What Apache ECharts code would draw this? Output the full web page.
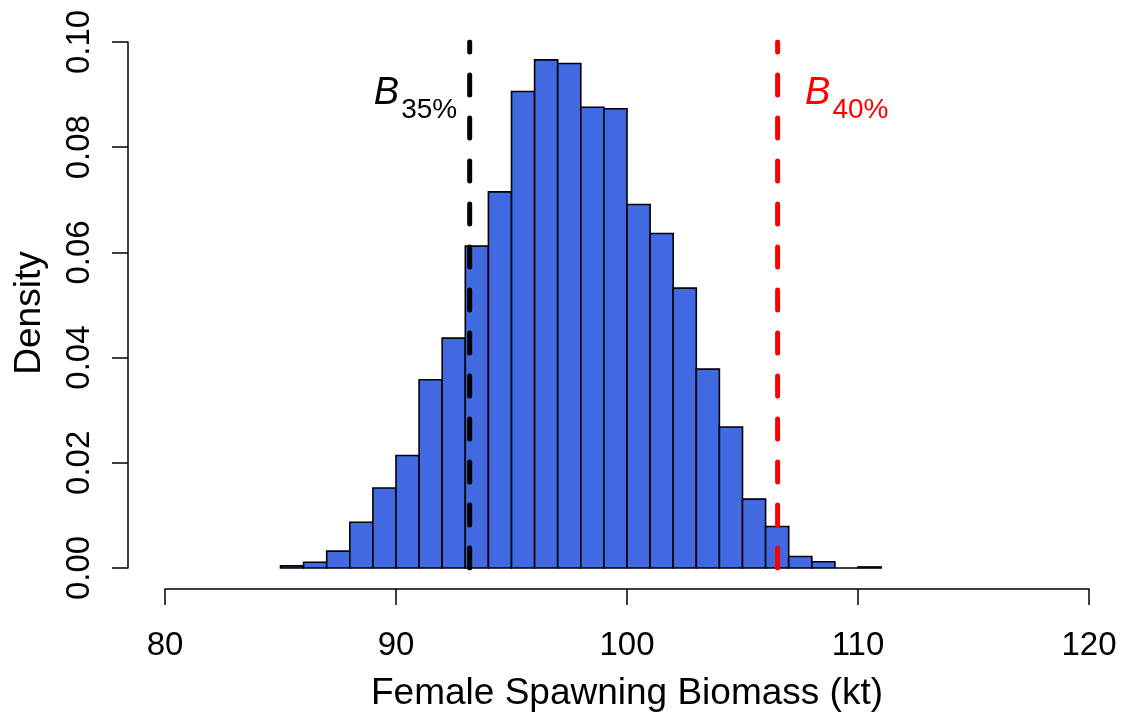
<!DOCTYPE html>
<html>
<head>
<meta charset="utf-8">
<script src="https://cdn.jsdelivr.net/npm/echarts@6/dist/echarts.min.js"></script>
<style>
html,body{margin:0;padding:0;background:#fff;}
#chart{width:1124px;height:721px;}
</style>
</head>
<body>
<div id="chart"></div>
<script>
// ---- data ----
const binStarts = [85,86,87,88,89,90,91,92,93,94,95,96,97,98,99,100,101,102,103,104,105,106,107,108,109,110];
const binWidth = 1;
const densities = [0.0004,0.0011,0.0032,0.0087,0.0152,0.0214,0.0358,0.0437,0.0612,0.0715,0.0906,0.0966,0.0959,0.0876,0.0873,0.0691,0.0636,0.0532,0.0378,0.0268,0.0131,0.0079,0.0022,0.0012,0.0000,0.0002];
const b35 = 93.19;
const b40 = 106.52;
const refTop = 0.10;
const xTicks = [80, 90, 100, 110, 120];
const yTicks = [0.00, 0.02, 0.04, 0.06, 0.08, 0.10];

const FONT = '"Liberation Sans", Arial, Helvetica, sans-serif';
const histData = binStarts.map((s, i) => [s, s + binWidth, densities[i]]);

const chart = echarts.init(document.getElementById('chart'), null, {renderer: 'canvas'});

function refLabel(sub, color, dx, align) {
  return {
    show: true,
    position: [dx, 52],
    align: align,
    verticalAlign: 'middle',
    formatter: '{b|B}{s|' + sub + '}',
    rich: {
      b: {fontFamily: FONT, fontStyle: 'italic', fontSize: 38, color: color, lineHeight: 44, verticalAlign: 'middle'},
      s: {fontFamily: FONT, fontSize: 28, color: color, padding: [33, 0, 0, 2], verticalAlign: 'middle'}
    }
  };
}

const option = {
  backgroundColor: '#ffffff',
  animation: false,
  grid: {left: 165, right: 35, top: 42, bottom: 153},
  xAxis: {
    type: 'value',
    min: xTicks[0], max: xTicks[xTicks.length - 1], interval: 10,
    offset: 21,
    name: 'Female Spawning Biomass (kt)',
    nameLocation: 'middle',
    nameGap: 86,
    nameTextStyle: {fontFamily: FONT, fontSize: 37, color: '#000'},
    axisLine: {show: true, onZero: false, lineStyle: {color: '#000', width: 1.5}},
    axisTick: {show: true, length: 16, lineStyle: {color: '#000', width: 1.5}},
    axisLabel: {margin: 40, fontFamily: FONT, fontSize: 33, color: '#000'},
    splitLine: {show: false}
  },
  yAxis: {
    type: 'value',
    min: yTicks[0], max: yTicks[yTicks.length - 1], interval: 0.02,
    offset: 37,
    name: 'Density',
    nameLocation: 'middle',
    nameGap: 80,
    nameRotate: 90,
    nameTextStyle: {fontFamily: FONT, fontSize: 37, color: '#000', padding: [0, 16, 0, 0]},
    axisLine: {show: true, lineStyle: {color: '#000', width: 1.5}},
    axisTick: {show: true, length: 16, lineStyle: {color: '#000', width: 1.5}},
    axisLabel: {margin: 32, rotate: 90, fontFamily: FONT, fontSize: 33, color: '#000',
      formatter: v => v.toFixed(2)},
    splitLine: {show: false}
  },
  series: [
    {
      type: 'custom',
      data: histData,
      clip: false,
      renderItem: function (params, api) {
        const p0 = api.coord([api.value(0), api.value(2)]);
        const p1 = api.coord([api.value(1), 0]);
        return {
          type: 'rect',
          shape: {x: p0[0], y: p0[1], width: p1[0] - p0[0], height: p1[1] - p0[1]},
          style: {fill: '#4169E1', stroke: '#000', lineWidth: 1.6}
        };
      },
      z: 2
    },
    {
      type: 'line',
      data: [[b35, 0], [b35, refTop]],
      symbol: 'none',
      lineStyle: {color: '#000', width: 5, type: [20, 23], cap: 'round'},
      z: 5
    },
    {
      type: 'line',
      data: [[b40, 0], [b40, refTop]],
      symbol: 'none',
      lineStyle: {color: '#FF0000', width: 5, type: [20, 23], cap: 'round'},
      z: 5
    },
    {
      type: 'scatter',
      symbolSize: 1,
      itemStyle: {color: 'rgba(0,0,0,0)', opacity: 1},
      emphasis: {disabled: true},
      data: [
        {value: [b35, refTop], label: refLabel('35%', '#000000', -12, 'right')},
        {value: [b40, refTop], label: refLabel('40%', '#FF0000', 28, 'left')}
      ],
      labelLayout: {hideOverlap: false},
      z: 6
    }
  ]
};
chart.setOption(option);
</script>
</body>
</html>
